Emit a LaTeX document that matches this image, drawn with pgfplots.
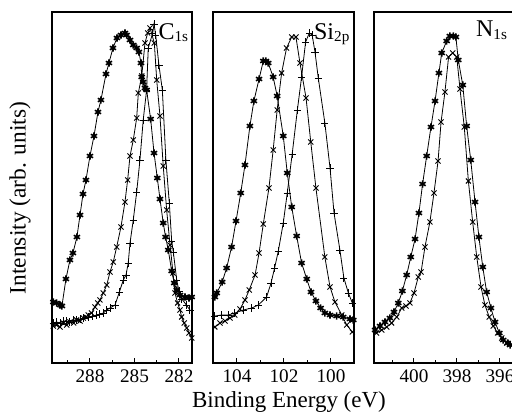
\documentclass[border=0pt]{standalone}
\usepackage{fontspec}
\setmainfont{Liberation Serif}
\usepackage{pgfplots}
\pgfplotsset{compat=1.18}
\pgfplotsset{
  panel/.style={
    scale only axis, height=175.5pt,
    x dir=reverse, ymin=0, ymax=351, ytick=\empty,
    axis line style={line width=0.6pt},
    xtick pos=bottom, tick align=inside,
    major tick length=2.5pt, minor tick length=1.5pt,
    every tick/.style={black, line width=0.5pt},
    xticklabel style={font=\fontsize{9.6}{11}\selectfont},
    /pgf/number format/assume math mode=true,
  },
  ast/.style={black, line width=0.4pt, mark=asterisk, mark size=1.8pt, mark options={solid, line width=0.8pt}},
  crs/.style={black, line width=0.4pt, mark=x, mark size=1.8pt, mark options={solid, line width=0.45pt}},
  pls/.style={black, line width=0.4pt, mark=+, mark size=1.8pt, mark options={solid, line width=0.45pt}},
}
\tikzset{lab/.style={anchor=north east, inner sep=0pt, font=\fontsize{12}{14}\selectfont}}
\newcommand{\sub}[1]{\raisebox{-1.2pt}{\fontsize{7.6}{8}\selectfont #1}}
\begin{document}
\begin{tikzpicture}
% ---------------- C 1s ----------------
\begin{axis}[panel, at={(26pt,25pt)}, anchor=south west, width=70pt,
  xmin=281.12, xmax=290.56, xtick={282,285,288}, minor xtick={283.5,286.5,289.5}]
\addplot[ast] coordinates {
(290.47,61) (290.25,60) (290.02,58) (289.89,57) (289.62,84) (289.35,103) (289.15,110)
(288.88,126) (288.67,148) (288.47,169) (288.27,183) (288.00,207) (287.73,227) (287.46,251)
(287.26,263) (286.92,289) (286.72,300) (286.45,315) (286.18,325) (285.91,328) (285.64,330)
(285.53,328) (285.30,323) (285.08,318) (284.85,315) (284.70,311) (284.56,300) (284.51,286)
(284.41,281) (284.29,275) (284.18,273) (283.91,244) (283.68,210) (283.46,185) (283.28,164)
(283.06,140) (282.90,126) (282.72,113) (282.49,92) (282.32,80) (282.15,73) (281.93,68)
(281.59,66) (281.32,65) (281.14,66)};
\addplot[crs] coordinates {
(290.47,37) (290.25,38) (290.02,36) (289.80,40) (289.57,38) (289.35,41) (289.10,40)
(288.90,43) (288.67,42) (288.45,45) (288.27,46) (288.11,48) (287.90,50) (287.66,56)
(287.48,60) (287.33,63) (287.10,70) (286.87,78) (286.65,91) (286.43,101) (286.20,116)
(285.91,136) (285.64,161) (285.46,183) (285.30,207) (285.08,223) (284.85,245) (284.74,270)
(284.51,287) (284.29,320) (284.11,330) (283.95,335) (283.66,320) (283.50,283) (283.28,247)
(283.06,197) (282.83,153) (282.60,118) (282.40,90) (282.27,70) (282.09,60) (281.93,53)
(281.82,46) (281.64,40) (281.48,35) (281.32,30) (281.14,25)};
\addplot[pls] coordinates {
(290.47,40) (290.25,41) (290.02,40) (289.80,42) (289.57,42) (289.35,41) (289.10,43)
(288.90,43) (288.67,44) (288.45,45) (288.11,46) (287.80,47) (287.55,48) (287.33,49)
(287.10,50) (286.87,53) (286.65,55) (286.31,58) (286.02,71) (285.75,83) (285.57,88)
(285.42,100) (285.30,120) (285.08,143) (284.85,171) (284.63,203) (284.41,243) (284.18,273)
(284.07,315) (283.77,330) (283.68,339) (283.57,328) (283.35,298) (283.12,273) (282.88,203)
(282.65,160) (282.49,122) (282.38,111) (282.15,83) (282.00,72) (281.80,64) (281.50,58)
(281.26,53)};
\node[lab] at (axis description cs:0.975,0.968) {C\sub{1s}};
\end{axis}
% ---------------- Si 2p ----------------
\begin{axis}[panel, at={(106.5pt,25pt)}, anchor=south west, width=70.5pt,
  xmin=99.02, xmax=105.02, xtick={100,102,104}, minor xtick={101,103}]
\addplot[ast] coordinates {
(104.94,66) (104.86,70) (104.63,81) (104.44,95) (104.23,116) (104.04,142) (103.84,170)
(103.66,198) (103.45,237) (103.28,262) (103.06,284) (102.88,302) (102.77,302) (102.67,300)
(102.46,286) (102.29,267) (102.03,227) (101.86,190) (101.67,156) (101.46,127) (101.25,100)
(101.03,84) (100.85,71) (100.64,62) (100.44,55) (100.26,50) (100.04,48) (99.76,47)
(99.48,46) (99.19,44) (99.05,43)};
\addplot[crs] coordinates {
(104.94,36) (104.72,40) (104.51,42) (104.30,45) (104.09,48) (103.87,54) (103.66,63)
(103.48,73) (103.23,88) (103.06,110) (102.88,139) (102.64,175) (102.46,213) (102.29,253)
(102.10,290) (101.89,315) (101.67,326) (101.49,326) (101.32,300) (101.06,265) (100.86,221)
(100.64,175) (100.26,106) (100.04,76) (99.83,61) (99.54,48) (99.33,38) (99.09,31)};
\addplot[pls] coordinates {
(104.94,47) (104.65,48) (104.37,48) (104.09,50) (103.73,53) (103.37,55) (103.09,58)
(102.74,66) (102.55,80) (102.40,95) (102.24,112) (102.03,140) (101.86,170) (101.65,209)
(101.43,253) (101.25,286) (101.08,321) (100.92,330) (100.80,328) (100.68,311) (100.54,285)
(100.26,240) (100.04,195) (99.87,150) (99.62,113) (99.45,85) (99.26,70) (99.09,60)};
\node[lab] at (axis description cs:0.97,0.968) {Si\sub{2p}};
\end{axis}
% ---------------- N 1s ----------------
\begin{axis}[panel, at={(187pt,25pt)}, anchor=south west, width=70.5pt,
  xmin=395.3, xmax=401.86, xtick={396,398,400}, minor xtick={397,399,401}]
\addplot[ast] coordinates {
(401.81,33) (401.58,37) (401.35,41) (401.12,45) (400.93,51) (400.73,60) (400.54,72)
(400.34,88) (400.15,106) (399.95,124) (399.77,150) (399.60,179) (399.41,207) (399.21,236)
(399.02,262) (398.84,290) (398.71,310) (398.48,322) (398.33,327) (398.17,327) (398.05,326)
(397.94,303) (397.73,278) (397.55,237) (397.36,203) (397.16,161) (396.98,126) (396.80,96)
(396.62,71) (396.42,55) (396.23,41) (396.03,30) (395.85,23) (395.64,20) (395.53,18)};
\addplot[crs] coordinates {
(401.74,30) (401.50,33) (401.27,36) (401.04,40) (400.80,46) (400.57,55) (400.37,57)
(400.19,60) (400.00,70) (399.80,86) (399.67,91) (399.49,116) (399.26,141) (399.07,170)
(398.88,202) (398.74,241) (398.56,271) (398.39,306) (398.20,310) (398.01,306) (397.86,274)
(397.66,236) (397.47,182) (397.27,141) (397.08,106) (396.88,76) (396.70,58) (396.50,46)
(396.31,37) (396.11,30) (395.92,25) (395.69,20)};
\node[lab] at (axis description cs:0.946,0.975) {N\sub{1s}};
\end{axis}
\node[rotate=90, font=\fontsize{11.7}{14}\selectfont] at (10pt,107.5pt) {Intensity (arb. units)};
\node[anchor=base, font=\fontsize{11.5}{14}\selectfont] at (144.5pt,3pt) {Binding Energy (eV)};
\pgfresetboundingbox
\path[use as bounding box] (0,0) rectangle (256pt,206.5pt);
\end{tikzpicture}
\end{document}
